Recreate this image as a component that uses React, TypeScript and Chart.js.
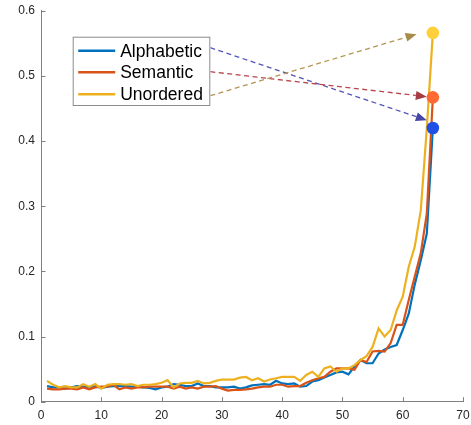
import { useEffect, useRef } from 'react';
import { Chart, registerables } from 'chart.js';

Chart.register(...registerables);

const steps = [
  1, 2, 3, 4, 5, 6, 7, 8, 9, 10, 11, 12, 13, 14, 15, 16, 17, 18, 19, 20,
  21, 22, 23, 24, 25, 26, 27, 28, 29, 30, 31, 32, 33, 34, 35, 36, 37, 38, 39, 40,
  41, 42, 43, 44, 45, 46, 47, 48, 49, 50, 51, 52, 53, 54, 55, 56, 57, 58, 59, 60,
  61, 62, 63, 64, 65,
];

const alphabetic = [
  0.024, 0.022, 0.022, 0.020, 0.022, 0.024, 0.023, 0.022, 0.024, 0.021,
  0.023, 0.024, 0.024, 0.024, 0.023, 0.023, 0.022, 0.021, 0.019, 0.022,
  0.023, 0.027, 0.026, 0.024, 0.024, 0.028, 0.024, 0.024, 0.022, 0.022,
  0.022, 0.023, 0.020, 0.022, 0.025, 0.026, 0.027, 0.026, 0.032, 0.028,
  0.027, 0.028, 0.023, 0.024, 0.031, 0.033, 0.037, 0.041, 0.045, 0.046,
  0.042, 0.054, 0.064, 0.059, 0.059, 0.074, 0.080, 0.084, 0.087, 0.110,
  0.135, 0.180, 0.217, 0.258, 0.420,
];

const semantic = [
  0.020, 0.019, 0.019, 0.020, 0.020, 0.019, 0.022, 0.019, 0.022, 0.023,
  0.023, 0.026, 0.019, 0.022, 0.020, 0.022, 0.022, 0.023, 0.023, 0.023,
  0.023, 0.020, 0.023, 0.020, 0.022, 0.020, 0.023, 0.023, 0.024, 0.020,
  0.017, 0.018, 0.018, 0.019, 0.020, 0.022, 0.023, 0.023, 0.026, 0.026,
  0.023, 0.024, 0.024, 0.029, 0.033, 0.036, 0.038, 0.046, 0.051, 0.051,
  0.051, 0.049, 0.064, 0.061, 0.077, 0.078, 0.077, 0.090, 0.118, 0.118,
  0.156, 0.192, 0.228, 0.289, 0.467,
];

const unordered = [
  0.032, 0.026, 0.022, 0.024, 0.022, 0.022, 0.027, 0.023, 0.027, 0.020,
  0.026, 0.027, 0.027, 0.026, 0.027, 0.024, 0.026, 0.026, 0.027, 0.029,
  0.033, 0.022, 0.028, 0.029, 0.029, 0.032, 0.028, 0.029, 0.032, 0.034,
  0.034, 0.034, 0.037, 0.038, 0.033, 0.036, 0.031, 0.034, 0.036, 0.038,
  0.038, 0.038, 0.032, 0.041, 0.046, 0.038, 0.051, 0.054, 0.046, 0.051,
  0.051, 0.056, 0.064, 0.070, 0.084, 0.1125, 0.100, 0.110, 0.140, 0.161,
  0.207, 0.238, 0.294, 0.420, 0.566,
];

const seriesNames = ['Alphabetic', 'Semantic', 'Unordered'];
const seriesValues = [alphabetic, semantic, unordered];
const lineColors = ['#0072BD', '#D95319', '#EDB120'];
const markerColors = ['#1F4FE5', '#FF6A33', '#FFD03C'];
const arrowColors = ['#5454B8', '#B8444C', '#B39552'];
const arrowHeadColors = ['#4646A6', '#A83C44', '#A68C48'];
// arrow tips in data coordinates (x step, y value)
const arrowTipX = [64.0, 64.0, 62.3];
const arrowTipY = [0.432, 0.468, 0.564];

const xTickValues = [0, 10, 20, 30, 40, 50, 60, 70];
const yTickValues = [0, 0.1, 0.2, 0.3, 0.4, 0.5, 0.6];

const FONT = "'Liberation Sans', Arial, Helvetica, sans-serif";

const legendBox = { dx: 31.7, dy: 26, w: 137.6, h: 69.3 };
const legendRowOffsets = [14, 35.6, 57.6];
const arrowStartOffsets = [11, 35, 59];

const decorPlugin = {
  id: 'decor',
  afterDatasetsDraw(chart: any) {
    const { ctx, chartArea, scales } = chart;
    const xs = scales.x;
    const ys = scales.y;
    ctx.save();
    // inward tick marks
    ctx.strokeStyle = '#808080';
    ctx.lineWidth = 1;
    ctx.beginPath();
    xTickValues.forEach((v) => {
      const px = Math.round(xs.getPixelForValue(v)) + 0.5;
      ctx.moveTo(px, chartArea.bottom);
      ctx.lineTo(px, chartArea.bottom - 4.5);
    });
    yTickValues.forEach((v) => {
      const py = Math.round(ys.getPixelForValue(v)) + 0.5;
      ctx.moveTo(chartArea.left, py);
      ctx.lineTo(chartArea.left + 4.5, py);
    });
    ctx.stroke();

    // arrows
    const bx = chartArea.left + legendBox.dx;
    const by = chartArea.top + legendBox.dy;
    seriesNames.forEach((_, i) => {
      const sx = bx + legendBox.w;
      const sy = by + arrowStartOffsets[i];
      const tx = xs.getPixelForValue(arrowTipX[i]);
      const ty = ys.getPixelForValue(arrowTipY[i]);
      const ang = Math.atan2(ty - sy, tx - sx);
      const headLen = 11;
      const headHalf = 4.5;
      const baseX = tx - headLen * Math.cos(ang);
      const baseY = ty - headLen * Math.sin(ang);
      ctx.setLineDash([5, 3.5]);
      ctx.strokeStyle = arrowColors[i];
      ctx.lineWidth = 1.3;
      ctx.beginPath();
      ctx.moveTo(sx, sy);
      ctx.lineTo(baseX, baseY);
      ctx.stroke();
      ctx.setLineDash([]);
      ctx.fillStyle = arrowHeadColors[i];
      ctx.beginPath();
      ctx.moveTo(tx, ty);
      ctx.lineTo(baseX + headHalf * Math.sin(ang), baseY - headHalf * Math.cos(ang));
      ctx.lineTo(baseX - headHalf * Math.sin(ang), baseY + headHalf * Math.cos(ang));
      ctx.closePath();
      ctx.fill();
    });

    // legend
    ctx.fillStyle = '#ffffff';
    ctx.fillRect(bx, by, legendBox.w, legendBox.h);
    ctx.strokeStyle = '#8c8c8c';
    ctx.lineWidth = 1;
    ctx.strokeRect(bx + 0.5, by + 0.5, legendBox.w - 1, legendBox.h - 1);
    ctx.font = `17.5px ${FONT}`;
    ctx.textBaseline = 'middle';
    ctx.textAlign = 'left';
    chart.data.datasets.slice(0, 3).forEach((ds: any, i: number) => {
      const ry = by + legendRowOffsets[i];
      ctx.strokeStyle = ds.borderColor;
      ctx.lineWidth = 2.4;
      ctx.beginPath();
      ctx.moveTo(bx + 5.5, ry);
      ctx.lineTo(bx + 42.5, ry);
      ctx.stroke();
      ctx.fillStyle = '#000000';
      ctx.fillText(ds.label, bx + 47.5, ry + 1);
    });
    ctx.restore();
  },
};

export default function App() {
  const canvasRef = useRef<HTMLCanvasElement | null>(null);

  useEffect(() => {
    if (!canvasRef.current) return;
    const lineSets = seriesValues.map((vals, i) => ({
      type: 'line' as const,
      label: seriesNames[i],
      data: vals.map((v, k) => ({ x: steps[k], y: v })),
      borderColor: lineColors[i],
      backgroundColor: lineColors[i],
      borderWidth: 2.2,
      pointRadius: 0,
      tension: 0,
      order: 3 - i,
    }));
    const markerSets = seriesValues.map((vals, i) => ({
      type: 'scatter' as const,
      label: seriesNames[i] + ' end',
      data: [{ x: steps[steps.length - 1], y: vals[vals.length - 1] }],
      backgroundColor: markerColors[i],
      borderColor: markerColors[i],
      borderWidth: 0,
      pointRadius: 6.3,
      order: 0,
    }));

    const chart = new Chart(canvasRef.current, {
      type: 'line',
      data: { datasets: [...lineSets, ...markerSets] as any },
      plugins: [decorPlugin],
      options: {
        animation: false,
        responsive: true,
        maintainAspectRatio: false,
        layout: { padding: { left: 0, right: 8, top: 10.7, bottom: 0 } },
        plugins: { legend: { display: false }, tooltip: { enabled: false } },
        scales: {
          x: {
            type: 'linear',
            min: 0,
            max: 70,
            afterBuildTicks: (scale: any) => {
              scale.ticks = xTickValues.map((v) => ({ value: v }));
            },
            afterFit: (scale: any) => {
              scale.height = 23.3;
              scale.paddingLeft = 0;
              scale.paddingRight = 0;
            },
            grid: { display: false, drawTicks: false },
            border: { display: true, color: '#808080', width: 1 },
            ticks: {
              color: '#262626',
              font: { family: FONT, size: 12 },
              padding: 7,
              maxRotation: 0,
              autoSkip: false,
              callback: (v: any) => String(v),
            },
          },
          y: {
            type: 'linear',
            min: 0,
            max: 0.6,
            afterBuildTicks: (scale: any) => {
              scale.ticks = yTickValues.map((v) => ({ value: v }));
            },
            afterFit: (scale: any) => {
              scale.width = 41;
              scale.paddingTop = 0;
              scale.paddingBottom = 0;
            },
            grid: { display: false, drawTicks: false },
            border: { display: true, color: '#808080', width: 1 },
            ticks: {
              color: '#262626',
              font: { family: FONT, size: 12 },
              padding: 6,
              autoSkip: false,
              callback: (v: any) => (v === 0 ? '0' : Number(v).toFixed(1)),
            },
          },
        },
      },
    });
    return () => chart.destroy();
  }, []);

  return (
    <div style={{ position: 'fixed', left: 0, top: 0, width: 471, height: 425, background: '#fff' }}>
      <canvas ref={canvasRef} />
    </div>
  );
}
